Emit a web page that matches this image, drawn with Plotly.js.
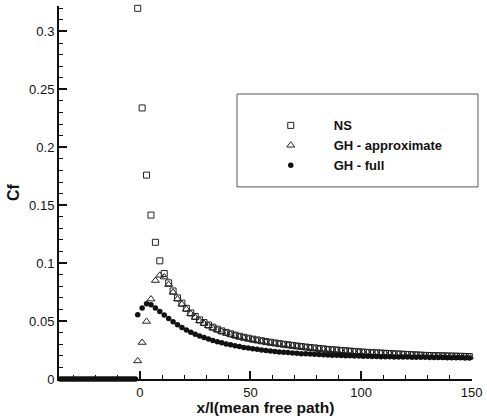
<!DOCTYPE html>
<html><head><meta charset="utf-8">
<script src="https://cdn.plot.ly/plotly-3.0.1.min.js"></script>
<style>html,body{margin:0;padding:0;background:#fff}#chart{width:487px;height:416px}</style>
</head><body><div id="chart"></div>
<script>
// shared downstream grid (x / mean free path)
const xDown = [-1,1,3,5,7,9,11,13,15,17,19,21,23,25,27,29,31,33,35,37,39,41,43,45,47,49,51,53,55,57,59,61,63,65,67,69,71,73,75,77,79,81,83,85,87,89,91,93,95,97,99,101,103,105,107,109,111,113,115,117,119,121,123,125,127,129,131,133,135,137,139,141,143,145,147,149,151];
const xUp = [-36,-35,-34,-33,-32,-31,-30,-29,-28,-27,-26,-25,-24,-23,-22,-21,-20,-19,-18,-17,-16,-15,-14,-13,-12,-11,-10,-9,-8,-7,-6,-5,-4,-3,-2];
const cfUp = [0,0,0,0,0,0,0,0,0,0,0,0,0,0,0,0,0,0,0,0,0,0,0,0,0,0,0,0,0,0,0,0,0,0,0];

const cfNS = [0.320,0.234,0.176,0.1415,0.118,0.102,0.091,0.083,0.076,0.070,0.0655,0.061,0.057,0.054,0.051,0.0487,0.0466,0.0447,0.0430,0.0415,0.0402,0.0390,0.0379,0.0369,0.0360,0.0352,0.0344,0.0337,0.0330,0.0323,0.0317,0.0311,0.0305,0.0300,0.0295,0.0290,0.0285,0.0280,0.0276,0.0272,0.0268,0.0264,0.0260,0.0256,0.0253,0.0250,0.0247,0.0244,0.0241,0.0238,0.0235,0.0232,0.0230,0.0228,0.0226,0.0224,0.0222,0.0220,0.0218,0.0216,0.0214,0.0212,0.0210,0.0208,0.0206,0.0204,0.0203,0.0202,0.0201,0.0200,0.0199,0.0198,0.0197,0.0196,0.0195,0.0194,0.0193];
const cfGHapprox = [0.0156,0.0315,0.0497,0.069,0.085,0.0895,0.088,0.0815,0.0748,0.0690,0.0645,0.0602,0.0563,0.0532,0.0503,0.0480,0.0459,0.0440,0.0424,0.0409,0.0396,0.0384,0.0373,0.0363,0.0354,0.0346,0.0338,0.0331,0.0325,0.0318,0.0312,0.0306,0.0301,0.0296,0.0291,0.0286,0.0281,0.0277,0.0272,0.0268,0.0264,0.0260,0.0257,0.0253,0.0250,0.0247,0.0244,0.0241,0.0238,0.0235,0.0233,0.0230,0.0228,0.0226,0.0224,0.0222,0.0220,0.0218,0.0216,0.0214,0.0212,0.0210,0.0208,0.0206,0.0205,0.0203,0.0202,0.0201,0.0200,0.0199,0.0198,0.0197,0.0196,0.0195,0.0194,0.0193,0.0192];
const cfGHfull = [0.0555,0.0613,0.0650,0.0640,0.0612,0.0582,0.0552,0.0522,0.0494,0.0468,0.0444,0.0423,0.0404,0.0387,0.0372,0.0358,0.0345,0.0333,0.0322,0.0312,0.0303,0.0295,0.0287,0.0280,0.0273,0.0267,0.0261,0.0256,0.0251,0.0246,0.0242,0.0238,0.0234,0.0231,0.0228,0.0225,0.0222,0.0219,0.0217,0.0215,0.0213,0.0211,0.0209,0.0207,0.0205,0.0204,0.0202,0.0201,0.0200,0.0199,0.0198,0.0197,0.0196,0.0195,0.0194,0.0193,0.0192,0.0191,0.0190,0.0190,0.0189,0.0189,0.0188,0.0188,0.0187,0.0187,0.0186,0.0186,0.0185,0.0185,0.0184,0.0184,0.0183,0.0183,0.0182,0.0182,0.0181];

const seriesNames = ['NS', 'GH - approximate', 'GH - full'];
const xTickVals = [0, 50, 100, 150];
const yTickVals = [0, 0.05, 0.1, 0.15, 0.2, 0.25, 0.3];

const FONT = 'Liberation Sans, Arial, Helvetica, sans-serif';
const INK = '#111';

const traces = [
  {x: xDown, y: cfNS, name: seriesNames[0], type: 'scatter', mode: 'markers', cliponaxis: false,
   marker: {symbol: 'square-open', size: 6, color: '#222', line: {width: 1, color: '#222'}}},
  {x: xDown, y: cfGHapprox, name: seriesNames[1], type: 'scatter', mode: 'markers', cliponaxis: false,
   marker: {symbol: 'triangle-up-open', size: 7, color: '#222', line: {width: 1, color: '#222'}}},
  {x: xUp.concat(xDown), y: cfUp.concat(cfGHfull), name: seriesNames[2], type: 'scatter', mode: 'markers', cliponaxis: false,
   marker: {symbol: 'circle', size: 5.5, color: '#111'}}
];

const axisCommon = {
  showgrid: false, zeroline: false, showline: true, linecolor: '#111', linewidth: 2,
  ticks: 'inside', ticklen: 8, tickwidth: 2, tickcolor: '#111',
  tickfont: {family: FONT, size: 13, color: INK}, mirror: false, automargin: true
};

const layout = {
  width: 487, height: 416,
  margin: {l: 59, r: 15, t: 6, b: 37, pad: 0},
  paper_bgcolor: '#fff', plot_bgcolor: '#fff',
  showlegend: true,
  xaxis: Object.assign({}, axisCommon, {
    range: [-36.6, 150.2], tickvals: xTickVals, ticktext: xTickVals.map(String),
    minor: {dtick: 10, ticks: 'inside', ticklen: 4, tickwidth: 1, tickcolor: '#111'},
    title: {text: '<b>x/l(mean free path)</b>', font: {family: FONT, size: 15.5, color: INK}, standoff: 1}
  }),
  yaxis: Object.assign({}, axisCommon, {
    range: [0, 0.322], tickvals: yTickVals, ticktext: yTickVals.map(String),
    minor: {dtick: 0.01, ticks: 'inside', ticklen: 4, tickwidth: 1, tickcolor: '#111'},
    title: {text: '<b>Cf</b>', font: {family: FONT, size: 16, color: INK}, standoff: 5}
  }),
  legend: {
    x: 0.457, y: 0.72, xanchor: 'left', yanchor: 'top',
    bgcolor: 'rgba(0,0,0,0)', borderwidth: 0, itemwidth: 76,
    font: {family: FONT, size: 13, color: INK, weight: 'bold'},
    tracegroupgap: 0
  },
  shapes: [{type: 'rect', xref: 'paper', yref: 'paper', x0: 0.431, x1: 1.0145, y0: 0.515, y1: 0.764,
            line: {color: '#555', width: 1}, fillcolor: 'rgba(0,0,0,0)'}]
};

Plotly.newPlot('chart', traces, layout, {displayModeBar: false, staticPlot: true});
</script></body></html>
